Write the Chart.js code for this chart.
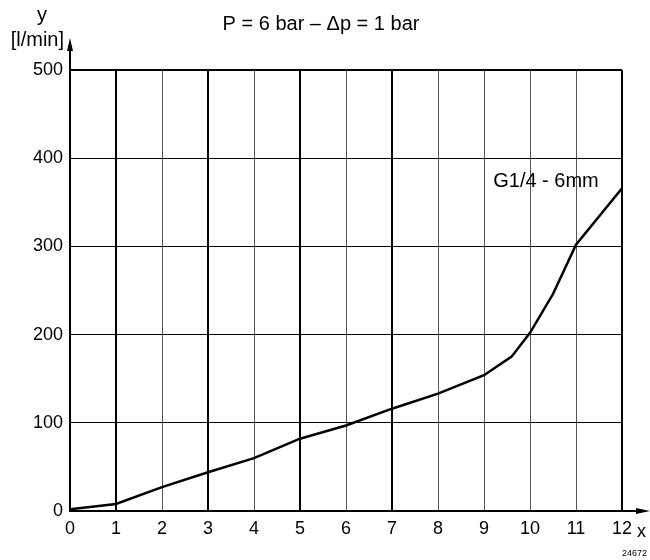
<!DOCTYPE html>
<html>
<head>
<meta charset="utf-8">
<script src="https://cdn.jsdelivr.net/npm/chart.js@4/dist/chart.umd.min.js"></script>
<style>
    html, body { margin: 0; padding: 0; background: #fff; }
    #wrap { width: 650px; height: 560px; position: relative; }
</style>
</head>
<body>
<div id="wrap"><canvas id="flowChart"></canvas></div>
<script>
const flowX = [0, 1, 2, 3, 4, 5, 6, 7, 8, 9, 9.6, 10, 10.5, 11, 12];
const flowY = [2, 8, 27, 44, 60, 82, 97, 116, 133, 154, 175, 202, 246, 302, 366];
const xTicks = [0, 1, 2, 3, 4, 5, 6, 7, 8, 9, 10, 11, 12];
const yTicks = [0, 100, 200, 300, 400, 500];
const titleText = 'P = 6 bar \u2013 \u0394p = 1 bar';
const seriesLabel = 'G1/4 - 6mm';
const yName = 'y';
const yUnit = '[l/min]';
const xName = 'x';
const figNumber = '24672';

const font = '"Liberation Sans", Arial, sans-serif';
const boldLines = [1, 3, 5, 7, 12];

const extras = {
    id: 'extras',
    afterDraw(chart) {
        const { ctx, chartArea, scales } = chart;
        const xs = scales.x, ys = scales.y;
        ctx.save();
        ctx.fillStyle = '#000';
        ctx.strokeStyle = '#000';

        // y axis arrow
        ctx.lineWidth = 2;
        ctx.beginPath();
        ctx.moveTo(chartArea.left, chartArea.top);
        ctx.lineTo(chartArea.left, 48);
        ctx.stroke();
        ctx.beginPath();
        ctx.moveTo(chartArea.left, 38);
        ctx.lineTo(chartArea.left - 3, 51);
        ctx.lineTo(chartArea.left + 3, 51);
        ctx.closePath();
        ctx.fill();

        // x axis arrow
        ctx.beginPath();
        ctx.moveTo(chartArea.right, chartArea.bottom);
        ctx.lineTo(638, chartArea.bottom);
        ctx.stroke();
        ctx.beginPath();
        ctx.moveTo(650, chartArea.bottom);
        ctx.lineTo(636, chartArea.bottom - 3);
        ctx.lineTo(636, chartArea.bottom + 3);
        ctx.closePath();
        ctx.fill();

        ctx.textBaseline = 'alphabetic';
        ctx.font = '20px ' + font;
        ctx.textAlign = 'center';
        ctx.fillText(titleText, 321, 30);
        ctx.fillText(yName, 42, 21);
        ctx.textAlign = 'right';
        ctx.fillText(yUnit, 64, 46);
        ctx.textAlign = 'left';
        ctx.fillText(seriesLabel, xs.getPixelForValue(9.2), ys.getPixelForValue(367));
        ctx.font = '18px ' + font;
        ctx.fillText(xName, 637, 537);
        ctx.font = '9px ' + font;
        ctx.textAlign = 'right';
        ctx.fillText(figNumber, 647, 556);
        ctx.restore();
    }
};

new Chart(document.getElementById('flowChart'), {
    type: 'line',
    data: {
        datasets: [
            {
                label: seriesLabel,
                data: flowX.map((x, i) => ({ x, y: flowY[i] })),
                borderColor: '#000',
                borderWidth: 2.5,
                pointRadius: 0,
                tension: 0,
                fill: false,
            },
        ],
    },
    options: {
        responsive: true,
        maintainAspectRatio: false,
        animation: false,
        layout: { padding: { top: 70, right: 28, left: 0, bottom: 0 } },
        plugins: {
            legend: { display: false },
            tooltip: { enabled: false },
        },
        scales: {
            x: {
                type: 'linear',
                min: 0,
                max: 12,
                afterBuildTicks: (s) => { s.ticks = xTicks.map((v) => ({ value: v })); },
                afterFit: (s) => { s.height = 49; },
                border: { color: '#000', width: 2 },
                grid: {
                    drawTicks: false,
                    color: (c) => (boldLines.includes(c.tick.value) ? '#000' : '#555'),
                    lineWidth: (c) => (boldLines.includes(c.tick.value) ? 2 : 1),
                },
                ticks: {
                    color: '#000',
                    padding: 7,
                    font: { family: font, size: 18 },
                },
            },
            y: {
                min: 0,
                max: 500,
                afterBuildTicks: (s) => { s.ticks = yTicks.map((v) => ({ value: v })); },
                afterFit: (s) => { s.width = 70; },
                border: { color: '#000', width: 2 },
                grid: {
                    drawTicks: false,
                    color: '#000',
                    lineWidth: (c) => (c.tick.value === 500 ? 2 : 1),
                },
                ticks: {
                    color: '#000',
                    padding: 7,
                    font: { family: font, size: 18 },
                },
            },
        },
    },
    plugins: [extras],
});
</script>
</body>
</html>
